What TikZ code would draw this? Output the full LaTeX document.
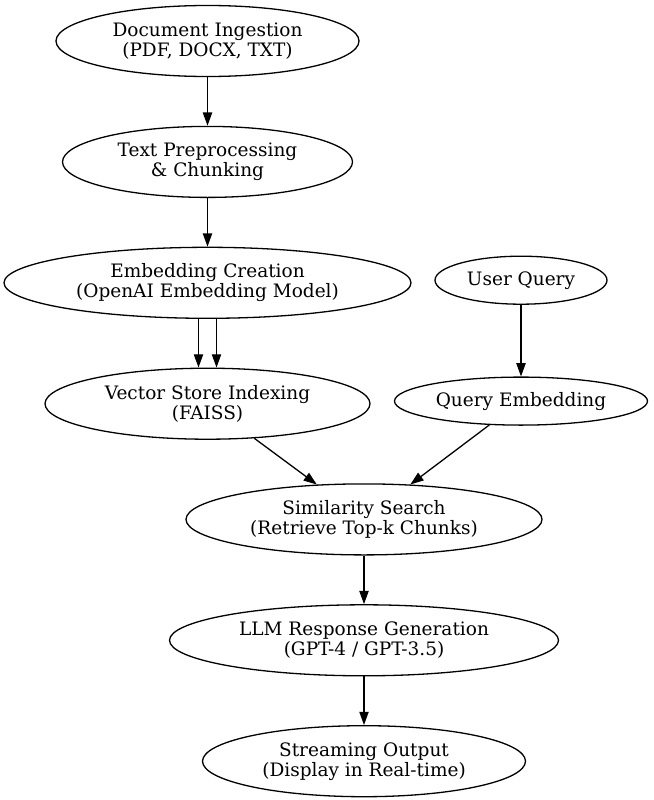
\documentclass[tikz,border=0pt]{standalone}
\usepackage{fontspec}
\setmainfont{DejaVu Serif}
\usetikzlibrary{shapes.geometric, arrows.meta, positioning}

\begin{document}
\begin{tikzpicture}[x=1pt,y=-1pt,>={Triangle[length=13.3pt,width=9.3pt]},
  node distance=48.6pt and 25pt,
  every node/.style={font=\fontsize{18.5}{20}\selectfont},
  stage/.style={draw,ellipse,line width=1.3pt,align=center,inner sep=0pt,
    minimum height=71pt},
  small/.style={stage,minimum height=48pt},
  flow/.style={->,line width=1.3pt}]
 \useasboundingbox (0,0) rectangle (653,800);
 \node[stage,minimum width=303pt] (ingest) at (207.5,41)
   {Document Ingestion\\(PDF, DOCX, TXT)};
 \node[stage,minimum width=290pt,below=of ingest] (prep)
   {Text Preprocessing\\\& Chunking};
 \node[stage,minimum width=407pt,below=of prep] (embed)
   {Embedding Creation\\(OpenAI Embedding Model)};
 \node[stage,minimum width=325pt,below=of embed] (store)
   {Vector Store Indexing\\(FAISS)};
 \node[small,minimum width=172pt] (query) at (521,280.2) {User Query};
 \node[small,minimum width=253pt,below=71.6pt of query] (qembed)
   {Query Embedding};
 \node[stage,minimum width=356pt] (search) at (364,519.4)
   {Similarity Search\\(Retrieve Top-k Chunks)};
 \node[stage,minimum width=389pt,below=of search] (llm)
   {LLM Response Generation\\(GPT-4 / GPT-3.5)};
 \node[stage,minimum width=323pt,below=of llm] (stream)
   {Streaming Output\\(Display in Real-time)};
 \draw[flow] (ingest)--(prep);
 \draw[flow] (prep)--(embed);
 \draw[flow] ([xshift=-9pt]embed.south)--([xshift=-9pt]store.north);
 \draw[flow] ([xshift=9pt]embed.south)--([xshift=9pt]store.north);
 \draw[flow] (query)--(qembed);
 \draw[flow] (store)--(search);
 \draw[flow] (qembed)--(search);
 \draw[flow] (search)--(llm);
 \draw[flow] (llm)--(stream);
\end{tikzpicture}
\end{document}
